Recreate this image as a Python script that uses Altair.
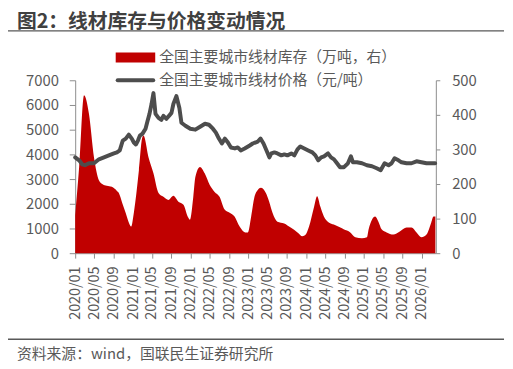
import altair as alt
import pandas as pd

# ---------------- data ----------------
inv_dates = [
    "2020-01-01", "2020-01-26", "2020-02-26", "2020-03-28", "2020-04-29", "2020-05-30",
    "2020-06-20", "2020-07-19", "2020-08-20", "2020-09-21", "2020-10-03", "2020-10-24",
    "2020-11-15", "2020-12-05", "2020-12-20", "2021-01-06", "2021-02-07", "2021-02-28",
    "2021-03-08", "2021-04-09", "2021-05-10", "2021-06-11", "2021-07-12", "2021-08-13",
    "2021-09-13", "2021-10-15", "2021-11-16", "2021-12-16", "2021-12-27", "2022-01-17",
    "2022-01-30", "2022-02-28", "2022-03-30", "2022-05-01", "2022-06-01", "2022-07-02",
    "2022-08-03", "2022-09-04", "2022-10-05", "2022-11-06", "2022-12-11", "2022-12-28",
    "2023-01-18", "2023-02-08", "2023-03-01", "2023-03-20", "2023-04-21", "2023-05-12",
    "2023-06-02", "2023-07-03", "2023-08-15", "2023-09-25", "2023-11-07", "2023-12-08",
    "2023-12-29", "2024-01-19", "2024-02-20", "2024-03-10", "2024-03-31", "2024-04-22",
    "2024-05-23", "2024-06-24", "2024-08-04", "2024-08-25", "2024-10-06", "2024-11-07",
    "2024-12-19", "2025-01-19", "2025-01-30", "2025-02-20", "2025-03-12", "2025-04-02",
    "2025-04-22", "2025-05-24", "2025-07-05", "2025-08-15", "2025-09-27", "2025-10-28",
    "2025-11-29", "2025-12-30", "2026-01-31", "2026-03-02", "2026-03-16", "2026-03-28",
]
inv_values = [
    110, 249, 457, 403, 277, 211,
    200, 195, 192, 180, 174, 146,
    117, 89, 77, 117, 240, 334,
    340, 277, 231, 174, 163, 154,
    166, 149, 140, 103, 97, 163,
    220, 249, 231, 197, 177, 163,
    126, 117, 106, 77, 60, 60,
    106, 163, 183, 189, 174, 149,
    117, 91, 86, 74, 60, 49,
    54, 77, 134, 165, 134, 106,
    89, 83, 74, 69, 60, 46,
    43, 46, 69, 97, 106, 91,
    69, 60, 54, 63, 74, 74,
    60, 46, 54, 89, 106, 106,
]

price_dates = [
    "2020-01-01", "2020-01-26", "2020-02-14", "2020-03-03", "2020-03-28", "2020-04-29",
    "2020-05-30", "2020-07-01", "2020-08-01", "2020-09-02", "2020-09-21", "2020-10-09",
    "2020-10-28", "2020-11-16", "2020-12-05", "2020-12-24", "2021-01-06", "2021-01-19",
    "2021-02-01", "2021-02-13", "2021-03-02", "2021-03-21", "2021-04-03", "2021-04-15",
    "2021-04-28", "2021-05-10", "2021-05-23", "2021-06-11", "2021-06-29", "2021-07-12",
    "2021-07-31", "2021-08-19", "2021-09-01", "2021-09-13", "2021-10-02", "2021-10-21",
    "2021-11-03", "2021-11-28", "2021-12-29", "2022-01-30", "2022-03-01", "2022-04-01",
    "2022-04-26", "2022-05-21", "2022-06-09", "2022-06-28", "2022-07-17", "2022-08-05",
    "2022-08-24", "2022-09-12", "2022-10-07", "2022-10-25", "2022-11-13", "2022-12-08",
    "2023-01-09", "2023-01-28", "2023-03-01", "2023-03-18", "2023-04-06", "2023-04-25",
    "2023-05-13", "2023-05-26", "2023-06-14", "2023-07-03", "2023-07-28", "2023-08-16",
    "2023-09-04", "2023-09-29", "2023-10-18", "2023-11-07", "2023-11-25", "2023-12-20",
    "2024-01-14", "2024-02-09", "2024-02-28", "2024-03-17", "2024-04-05", "2024-04-23",
    "2024-05-18", "2024-06-06", "2024-06-25", "2024-07-14", "2024-08-02", "2024-08-27",
    "2024-09-21", "2024-10-10", "2024-10-23", "2024-11-17", "2024-12-19", "2025-01-19",
    "2025-02-20", "2025-03-22", "2025-04-16", "2025-05-11", "2025-06-05", "2025-06-24",
    "2025-07-13", "2025-08-07", "2025-08-26", "2025-09-27", "2025-10-28", "2025-11-29",
    "2025-12-30", "2026-01-31", "2026-03-02", "2026-03-27",
]
price_values = [
    3880, 3760, 3600, 3560, 3640, 3640,
    3800, 3880, 3960, 4040, 4080, 4160,
    4560, 4640, 4800, 4640, 4480, 4400,
    4560, 4760, 4840, 5040, 5360, 5640,
    6040, 6480, 5640, 5480, 5400, 5560,
    5440, 5580, 5680, 6040, 6360, 5880,
    5280, 5160, 5040, 5000, 5120, 5240,
    5200, 5040, 4880, 4640, 4440, 4640,
    4480, 4280, 4240, 4280, 4160, 4240,
    4360, 4440, 4520, 4640, 4440, 4160,
    3880, 4040, 4080, 4040, 3960, 4000,
    3960, 4040, 3960, 4200, 4320, 4240,
    4160, 4080, 3960, 3760, 3880, 3920,
    4040, 3880, 3800, 3640, 3480, 3480,
    3640, 3920, 3680, 3680, 3640, 3560,
    3520, 3440, 3360, 3640, 3560, 3640,
    3840, 3760, 3680, 3640, 3640, 3720,
    3680, 3640, 3640, 3640,
]

left_ticks = [0, 1000, 2000, 3000, 4000, 5000, 6000, 7000]
right_ticks = [0, 100, 200, 300, 400, 500]
x_tick_years = [2020, 2020, 2020, 2021, 2021, 2021, 2022, 2022, 2022,
                2023, 2023, 2023, 2024, 2024, 2024, 2025, 2025, 2025, 2026]
x_tick_months = [1, 5, 9, 1, 5, 9, 1, 5, 9, 1, 5, 9, 1, 5, 9, 1, 5, 9, 1]

title_text = "图2：线材库存与价格变动情况"
legend_labels = ["全国主要城市线材库存（万吨，右）", "全国主要城市线材价格（元/吨）"]
source_text = "资料来源：wind，国联民生证券研究所"

# ---------------- style ----------------
FONT = "Noto Sans CJK SC"
RED = "#C00000"
LINE = "#4D4D4D"
AXIS = "#8C8C8C"
TXT = "#595959"

inv_df = pd.DataFrame({"date": [d + "T00:00:00" for d in inv_dates], "inv": inv_values})
price_df = pd.DataFrame({"date": [d + "T00:00:00" for d in price_dates], "price": price_values})
one = pd.DataFrame({"k": [0]})

x_enc = alt.X(
    "date:T",
    title=None,
    scale=alt.Scale(
        domain=[alt.DateTime(year=2020, month=1, date=1), alt.DateTime(year=2026, month=3, date=31)],
        nice=False,
    ),
    axis=alt.Axis(
        values=[alt.DateTime(year=y, month=m, date=1) for y, m in zip(x_tick_years, x_tick_months)],
        format="%Y/%m",
        labelAngle=270,
        labelAlign="right",
        labelBaseline="middle",
        labelFont=FONT,
        labelFontSize=14.5,
        labelColor=TXT,
        labelPadding=8,
        labelOverlap=False,
        labelFlush=False,
        tickSize=5,
        tickColor=AXIS,
        domainColor=AXIS,
        grid=False,
    ),
)

area = alt.Chart(inv_df).mark_area(color=RED, interpolate="monotone").encode(
    x=x_enc,
    y=alt.Y(
        "inv:Q",
        title=None,
        scale=alt.Scale(domain=[0, 500], nice=False),
        axis=alt.Axis(
            orient="right", values=right_ticks, format="d", labelFont=FONT, labelFontSize=15,
            labelColor=TXT, tickSize=4, labelPadding=12, tickColor=AXIS,
            domainColor=AXIS, grid=False, labelFlush=False,
        ),
    ),
)

line = alt.Chart(price_df).mark_line(
    color=LINE, strokeWidth=4, strokeJoin="round", strokeCap="round"
).encode(
    x=x_enc,
    y=alt.Y(
        "price:Q",
        title=None,
        scale=alt.Scale(domain=[0, 7000], nice=False),
        axis=alt.Axis(
            orient="left", values=left_ticks, format="d", labelFont=FONT, labelFontSize=15,
            labelColor=TXT, tickSize=6, labelPadding=11, tickColor=AXIS,
            domainColor=AXIS, grid=False, labelFlush=False,
        ),
    ),
)

base = alt.Chart(one)

title_mark = base.mark_text(
    text=title_text, font=FONT, fontSize=20, fontWeight="bold", color="#404040",
    align="left", baseline="middle",
).encode(x=alt.value(-59), y=alt.value(-59))

top_rule = base.mark_rule(color="#595959", strokeWidth=1.5).encode(
    x=alt.value(-68), x2=alt.value(434), y=alt.value(-50)
)
bottom_rule = base.mark_rule(color="#595959", strokeWidth=1.5).encode(
    x=alt.value(-68), x2=alt.value(434), y=alt.value(262)
)
source_mark = base.mark_text(
    text=source_text, font=FONT, fontSize=15, color=TXT, align="left", baseline="middle",
).encode(x=alt.value(-59), y=alt.value(277))

leg_rect = base.mark_rect(color=RED).encode(
    x=alt.value(41), x2=alt.value(81), y=alt.value(-28), y2=alt.value(-18)
)
leg_line = base.mark_rule(color=LINE, strokeWidth=4, strokeCap="round").encode(
    x=alt.value(43), x2=alt.value(79), y=alt.value(0)
)
leg_t1 = base.mark_text(
    text=legend_labels[0], font=FONT, fontSize=15, color=TXT, align="left", baseline="middle",
).encode(x=alt.value(85), y=alt.value(-23))
leg_t2 = base.mark_text(
    text=legend_labels[1], font=FONT, fontSize=15, color=TXT, align="left", baseline="middle",
).encode(x=alt.value(85), y=alt.value(0))

chart = alt.layer(
    area, line, title_mark, top_rule, bottom_rule, source_mark,
    leg_rect, leg_line, leg_t1, leg_t2,
).resolve_scale(y="independent").properties(
    width=365,
    height=175,
    autosize=alt.AutoSizeParams(type="none"),
    padding={"left": 68, "top": 71, "right": 70, "bottom": 110},
    background="white",
).configure_view(stroke=None)

chart.save("out.html", embed_options={"renderer": "svg", "actions": False})
